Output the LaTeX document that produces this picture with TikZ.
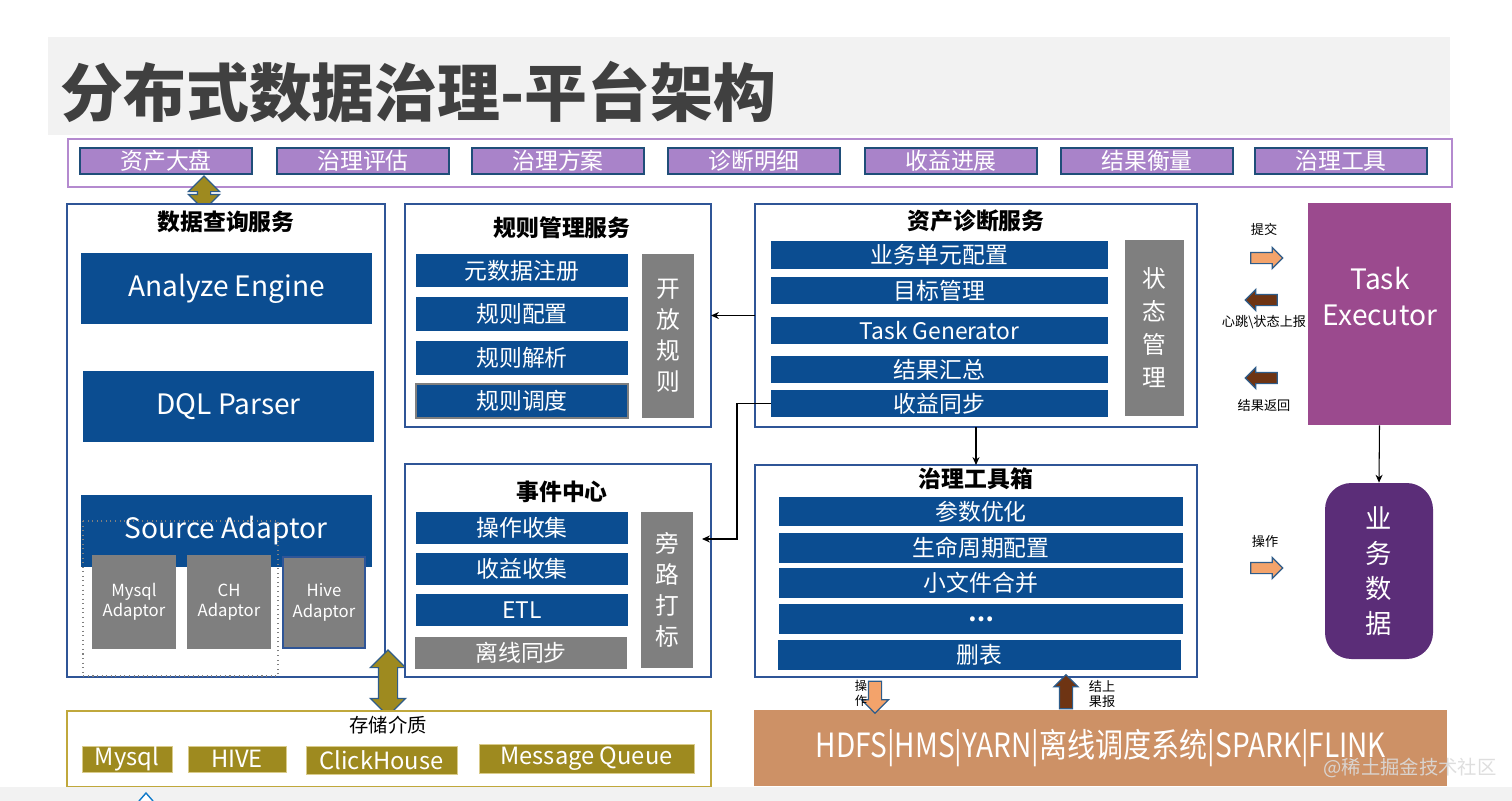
\documentclass[tikz,border=0pt]{standalone}
\usepackage{fontspec}
\setmainfont{Noto Sans CJK SC}
\usepackage{graphicx}
\usetikzlibrary{shapes.arrows,arrows.meta,positioning}

\definecolor{itemblue}{HTML}{0B4D91}
\definecolor{itemgray}{HTML}{7F7F7F}
\definecolor{boxblue}{HTML}{2F5597}
\definecolor{tabpurple}{HTML}{A983C9}
\definecolor{tabline}{HTML}{1F4E79}
\definecolor{barpurple}{HTML}{B48ACF}
\definecolor{bandgray}{HTML}{F2F2F2}
\definecolor{titlegray}{HTML}{404040}
\definecolor{storeolive}{HTML}{9E8A1F}
\definecolor{storeline}{HTML}{C0A83C}
\definecolor{execpurple}{HTML}{9B4A8E}
\definecolor{bizpurple}{HTML}{5B2D78}
\definecolor{hdtan}{HTML}{CD9166}
\definecolor{arrorange}{HTML}{F3A36B}
\definecolor{arrbrown}{HTML}{6E3413}
\definecolor{arrline}{HTML}{2E5C8A}

\newcommand\fsz[2]{\fontsize{#1}{#2}\selectfont}
% box from pixel corners: style, name, x1, y1, x2, y2, text
\newcommand\boxat[7]{\node[#1, minimum width={(#5-#3)*0.02cm}, minimum height={(#6-#4)*0.02cm}] (#2) at ({(#3+#5)/2},{(#4+#6)/2}) {#7};}

\tikzset{
  panel/.style={draw=boxblue, line width=0.7pt, fill=white, inner sep=0pt, outer sep=0pt},
  paneltitle/.style={font=\bfseries\fsz{13pt}{15pt}, inner sep=0pt},
  tab/.style={fill=tabpurple, draw=tabline, line width=0.8pt, text=white, inner sep=0pt, font=\fsz{13pt}{15pt}},
  blueitem/.style={fill=itemblue, text=white, inner sep=0pt, outer sep=0pt, font=\fsz{13pt}{15pt}},
  grayitem/.style={fill=itemgray, text=white, inner sep=0pt, outer sep=0pt, font=\fsz{13pt}{15pt}},
  engine/.style={blueitem, font=\fsz{16pt}{18pt}},
  adaptor/.style={grayitem, align=center, font=\fsz{9.5pt}{11.5pt}},
  sidebar/.style={grayitem, align=center, font=\fsz{13.5pt}{17.6pt}},
  storeitem/.style={fill=storeolive, draw=storeline!60!white, line width=0.5pt, text=white, inner sep=0pt, font=\fsz{13.5pt}{15pt}},
  smalllbl/.style={font=\fsz{7.5pt}{8.5pt}, inner sep=0pt, align=center},
  conn/.style={draw=black, line width=0.6pt, -{Stealth[length=4.5pt,width=4pt]}},
  blkarrow/.style={single arrow, draw=arrline, line width=0.7pt, inner xsep=0pt, outer sep=0pt},
  dblarrow/.style={double arrow, draw=arrline, line width=0.7pt, fill=storeolive, inner xsep=0pt, outer sep=0pt},
}

\begin{document}
\begin{tikzpicture}[x=0.02cm,y=-0.02cm]
\useasboundingbox (0,0) rectangle (1512,801);
\fill[white] (0,0) rectangle (1512,801);

% title band
\fill[bandgray] (48,37) rectangle (1450,135);
\node[anchor=west, font=\bfseries\fsz{35.8pt}{40pt}, text=titlegray, inner sep=0pt] (title) at (60,92) {分布式数据治理-平台架构};

% top menu
\boxat{draw=barpurple, line width=1pt, inner sep=0pt}{bar}{68}{139}{1452}{187}{}
\foreach \x/\n/\t in {80/t1/资产大盘, 277/t2/治理评估, 472/t3/治理方案, 668/t4/诊断明细,
                      865/t5/收益进展, 1061/t6/结果衡量, 1255/t7/治理工具}{
  \boxat{tab}{\n}{\x}{148}{\x+172}{174}{\t}
}
\node[dblarrow, rotate=90, inner ysep=0.12cm, double arrow head extend=0.18cm,
      minimum height=0.68cm] (qarr) at (204,193) {};

% data query service
\boxat{panel}{dq}{67}{204}{385}{677}{}
\node[paneltitle] (dqt) at (226,222) {数据查询服务};
\boxat{engine}{ae}{81}{253}{372}{324}{Analyze Engine}
\boxat{engine}{dp}{83}{371}{374}{442}{DQL Parser}
\boxat{engine}{sa}{81}{495}{372}{567}{}
\node[text=white, font=\fsz{16pt}{18pt}, inner sep=0pt] (sat) at (226,531) {Source Adaptor};
\draw[dotted, gray, line width=0.6pt] (83,521) rectangle (278,676);
\boxat{adaptor}{ma}{92}{555}{176}{649}{Mysql\\Adaptor}
\boxat{adaptor}{ca}{187}{555}{271}{649}{CH\\Adaptor}
\boxat{adaptor, draw=boxblue, line width=0.6pt}{ha}{283}{557}{365}{648}{Hive\\Adaptor}

% storage
\node[dblarrow, rotate=90, inner ysep=0.18cm, double arrow head extend=0.16cm,
      minimum height=1.32cm] (sarr) at (388,683) {};
\boxat{draw=storeline, line width=1pt, fill=white, inner sep=0pt}{st}{67}{711}{711}{787}{}
\node[font=\fsz{11pt}{13pt}, inner sep=0pt] (stt) at (388,725) {存储介质};
\boxat{storeitem}{s1}{82}{746}{172}{772}{Mysql}
\boxat{storeitem}{s2}{188}{746}{286}{772}{HIVE}
\boxat{storeitem}{s3}{306}{746}{457}{774}{ClickHouse}
\boxat{storeitem}{s4}{479}{744}{694}{773}{Message Queue}

% rule management
\boxat{panel}{rm}{405}{204}{711}{427}{}
\node[paneltitle] (rmt) at (562,228) {规则管理服务};
\boxat{blueitem}{rm1}{416}{254}{628}{287}{元数据注册}
\boxat{blueitem}{rm2}{416}{297}{628}{331}{规则配置}
\boxat{blueitem}{rm3}{416}{341}{628}{375}{规则解析}
\boxat{blueitem, draw=itemgray, line width=0.8pt}{rm4}{416}{384}{628}{418}{规则调度}
\boxat{sidebar}{orl}{642}{254}{694}{418}{开\\放\\规\\则}

% event center
\boxat{panel}{ev}{405}{464}{711}{677}{}
\node[paneltitle] (evt) at (562,492) {事件中心};
\boxat{blueitem}{ev1}{416}{512}{628}{544}{操作收集}
\boxat{blueitem}{ev2}{416}{553}{628}{585}{收益收集}
\boxat{blueitem}{ev3}{416}{594}{628}{626}{ETL}
\boxat{grayitem}{ev4}{415}{637}{627}{669}{离线同步}
\boxat{sidebar}{bpm}{641}{512}{693}{668}{旁\\路\\打\\标}

% asset diagnosis
\boxat{panel}{ad}{755}{204}{1197}{427}{}
\node[paneltitle] (adt) at (976,221) {资产诊断服务};
\boxat{blueitem}{ad1}{771}{241}{1108}{269}{业务单元配置}
\boxat{blueitem}{ad2}{771}{277}{1108}{304}{目标管理}
\boxat{blueitem}{ad3}{771}{317}{1108}{344}{Task Generator}
\boxat{blueitem}{ad4}{771}{356}{1108}{383}{结果汇总}
\boxat{blueitem}{ad5}{771}{390}{1108}{417}{收益同步}
\boxat{sidebar, font=\fsz{13.5pt}{18.8pt}}{stm}{1125}{240}{1184}{416}{状\\态\\管\\理}

% toolbox
\boxat{panel}{tb}{755}{465}{1197}{677}{}
\node[paneltitle] (tbt) at (976,479) {治理工具箱};
\boxat{blueitem}{tb1}{779}{497}{1183}{526}{参数优化}
\boxat{blueitem}{tb2}{779}{533}{1183}{563}{生命周期配置}
\boxat{blueitem}{tb3}{779}{568}{1183}{598}{小文件合并}
\boxat{blueitem}{tb4}{779}{604}{1183}{634}{\textbf{…}}
\boxat{blueitem}{tb5}{778}{640}{1181}{670}{删表}

% executor and business data
\boxat{fill=execpurple, inner sep=0pt}{te}{1308}{203}{1451}{425}{}
\node[text=white, align=center, font=\fsz{16pt}{20.5pt}, inner sep=0pt] (tet) at (1380,296) {Task\\Executor};
\boxat{fill=bizpurple, rounded corners=15pt, text=white, align=center, inner sep=0pt,
       font=\fsz{15pt}{20pt}}{bd}{1325}{483}{1433}{659}{业\\务\\数\\据}

\node[smalllbl] (l1) at (1264,229) {提交};
\node[blkarrow, fill=arrorange, inner ysep=0.1cm, single arrow head extend=0.1cm,
      minimum height=0.64cm] (a1) at (1264,258) {};
\node[blkarrow, fill=arrbrown, rotate=180, inner ysep=0.1cm, single arrow head extend=0.1cm,
      minimum height=0.64cm] (a2) at (1264,300) {};
\node[smalllbl] (l2) at (1264,322) {心跳\textbackslash 状态上报};
\node[blkarrow, fill=arrbrown, rotate=180, inner ysep=0.1cm, single arrow head extend=0.1cm,
      minimum height=0.64cm] (a3) at (1264,378) {};
\node[smalllbl] (l3) at (1264,405) {结果返回};
\node[smalllbl] (l4) at (1265,541) {操作};
\node[blkarrow, fill=arrorange, inner ysep=0.1cm, single arrow head extend=0.1cm,
      minimum height=0.64cm] (a4) at (1264,568) {};

% compute layer
\boxat{fill=hdtan, text=white, inner sep=0pt}{hd}{754}{710}{1447}{786}{}
\node[text=white, inner sep=0pt, font=\fsz{19pt}{21pt}] (hdt) at (1101,748)
  {\scalebox{0.84}[1]{HDFS|HMS|YARN|离线调度系统|SPARK|FLINK}};
\node[blkarrow, fill=arrorange, rotate=270, inner ysep=0.12cm, single arrow head extend=0.14cm,
      minimum height=0.64cm] (a5) at (875,694) {};
\node[smalllbl, font=\fsz{7pt}{8.5pt}] (l5) at (861,693) {操\\作};
\node[blkarrow, fill=arrbrown, rotate=90, inner ysep=0.12cm, single arrow head extend=0.11cm,
      minimum height=0.68cm] (a6) at (1066,695) {};
\node[smalllbl, font=\fsz{7.5pt}{9pt}] (l6) at (1102,694) {结上\\果报};
\node[text=white!72!gray, opacity=0.9, font=\fsz{11pt}{13pt}, inner sep=0pt] (wm) at (1410,768) {@稀土掘金技术社区};

% connectors
\draw[conn] (ad.west) -- (rm.east);
\coordinate (evin) at (702,539);
\draw[conn] (ad5.west) -- ++(-34,0) |- (evin);
\draw[conn] (ad.south) -- (tb.north);
\draw[conn] (te.south) -- (bd.north);

% bottom strip
\fill[bandgray] (0,787) rectangle (1512,801);
\draw[cyan!60!blue, fill=white, line width=0.8pt] (139,801) -- (146,793) -- (153,801);
\end{tikzpicture}
\end{document}
